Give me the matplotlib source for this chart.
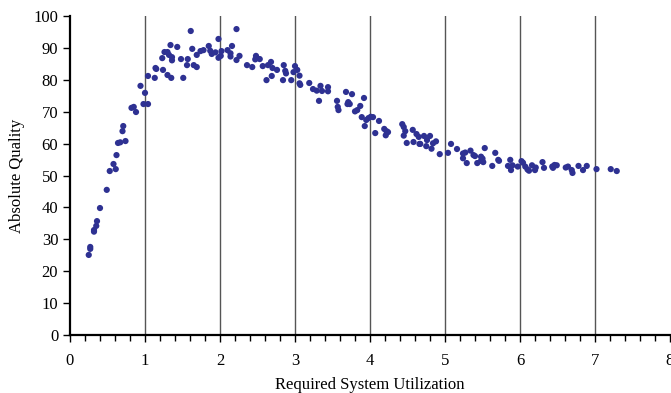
import matplotlib.pyplot as plt
from matplotlib.ticker import MultipleLocator

# required system utilization vs absolute quality
utilization = [
    0.62, 0.58, 0.61, 0.53, 0.49, 0.40, 0.36, 0.35, 0.32, 0.32, 0.27, 0.27, 0.25,
    0.64, 0.67, 0.74, 0.70, 0.71, 0.82, 0.85, 0.88, 0.94, 1.00, 0.98, 1.04,
    1.04, 1.13, 1.14, 1.15, 1.24, 1.23, 1.26, 1.30, 1.34, 1.32, 1.36, 1.36,
    1.30, 1.35, 1.43, 1.48, 1.51, 1.57, 1.56, 1.61, 1.63, 1.65, 1.69, 1.69,
    1.74, 1.78, 1.85, 1.87, 1.89, 1.94, 1.98, 1.98, 2.02, 2.01, 2.10, 2.14,
    2.16, 2.14, 2.22, 2.26, 2.22, 2.36, 2.43, 2.48, 2.47, 2.53, 2.57, 2.62,
    2.64, 2.68, 2.70, 2.69, 2.76,
    2.85, 2.87, 2.88, 2.84, 2.95, 3.00, 2.98, 3.03, 3.06, 3.06, 3.07, 3.19,
    3.24, 3.29, 3.34, 3.36, 3.44, 3.44, 3.32, 3.68, 3.76, 3.56, 3.57, 3.58,
    3.71, 3.73, 3.70, 3.87, 3.83, 3.80, 3.92, 3.89, 3.95, 3.98, 4.01, 4.04,
    3.93, 4.07, 4.12, 4.19, 4.22, 4.21, 4.24, 4.43, 4.45, 4.47, 4.45, 4.49,
    4.57, 4.58, 4.62, 4.65, 4.66,
    4.72, 4.80, 4.76, 4.88, 4.84, 4.75, 4.82, 4.67, 4.93, 5.04, 5.08, 5.16,
    5.24, 5.27, 5.34, 5.24, 5.29, 5.38, 5.40, 5.48, 5.50, 5.43, 5.51, 5.53,
    5.48, 5.67, 5.71, 5.72, 5.63, 5.87, 5.84, 5.88, 5.90, 5.97, 6.02, 6.04,
    6.07, 6.10, 6.12, 6.16, 6.21, 6.20, 6.30, 6.32, 6.43, 6.46, 6.49, 6.44,
    6.61, 6.64, 6.69, 6.70, 6.78, 6.84, 6.89, 7.02, 7.21, 7.29,
]
quality = [
    56.4, 53.6, 52.0, 51.4, 45.5, 39.8, 35.7, 34.2, 32.9, 32.4, 27.6, 27.0, 25.1,
    60.2, 60.4, 60.8, 63.9, 65.5, 71.2, 71.5, 69.9, 78.1, 75.9, 72.4, 72.4,
    81.2, 80.6, 83.7, 83.4, 83.1, 86.8, 88.7, 88.7, 90.9, 87.8, 87.1, 86.1,
    81.5, 80.6, 90.3, 86.5, 80.6, 86.5, 84.6, 95.3, 89.7, 84.6, 84.0, 87.8,
    89.0, 89.3, 90.6, 89.1, 88.1, 88.6, 92.8, 86.9, 89.0, 87.5, 89.3, 88.3,
    90.6, 87.3, 95.9, 87.5, 86.2, 84.6, 84.0, 87.5, 86.4, 86.5, 84.3, 79.9,
    84.6, 85.6, 83.7, 81.2, 83.1,
    84.6, 82.8, 82.0, 79.9, 79.9, 84.3, 82.4, 83.1, 81.3, 78.9, 78.4, 79.0,
    77.1, 76.6, 78.1, 76.5, 77.7, 76.4, 73.4, 76.2, 75.5, 73.4, 71.5, 70.5,
    73.0, 72.4, 72.4, 71.8, 70.5, 70.1, 74.3, 68.3, 67.4, 68.0, 68.4, 68.3,
    65.5, 63.3, 67.1, 64.6, 63.9, 62.6, 63.6, 66.1, 65.2, 63.9, 62.5, 60.2,
    64.3, 60.5, 63.0, 62.1, 59.9,
    62.4, 62.4, 61.1, 60.7, 60.1, 59.2, 58.4, 59.9, 56.7, 57.1, 59.9, 58.3,
    56.9, 57.2, 57.8, 55.4, 53.9, 56.4, 56.1, 55.9, 55.3, 53.9, 54.2, 58.6,
    54.6, 57.1, 54.9, 54.6, 53.0, 54.9, 53.0, 51.7, 53.2, 52.8, 54.5, 54.0,
    52.8, 51.9, 51.5, 53.2, 52.5, 51.7, 54.2, 52.4, 52.8, 53.3, 53.2, 52.4,
    52.5, 52.8, 51.7, 50.8, 53.0, 51.7, 53.0, 52.0, 52.0, 51.4,
]

plt.rcParams['font.family'] = ['Liberation Serif', 'DejaVu Serif']

fig = plt.figure(figsize=(6.71, 3.93), dpi=100)
ax = fig.add_axes([70 / 671, 58 / 393, 600 / 671, 319 / 393])

for xv in range(1, 8):
    ax.axvline(xv, color='#555555', linewidth=1.0, zorder=1)

ax.scatter(utilization, quality, s=20, color='#2e3192', edgecolors='none', zorder=3)

ax.set_xlim(0, 8)
ax.set_ylim(0, 100)
ax.xaxis.set_major_locator(MultipleLocator(1))
ax.xaxis.set_minor_locator(MultipleLocator(0.2))
ax.yaxis.set_major_locator(MultipleLocator(10))

ax.spines['top'].set_visible(False)
ax.spines['right'].set_visible(False)
ax.spines['left'].set_linewidth(1.6)
ax.spines['bottom'].set_linewidth(1.6)
ax.tick_params(axis='both', which='major', direction='out', length=5, width=1, labelsize=12)
ax.tick_params(axis='x', which='minor', direction='out', length=4, width=1)
ax.tick_params(axis='x', pad=8)

ax.set_xlabel('Required System Utilization', fontsize=12, labelpad=6)
ax.set_ylabel('Absolute Quality', fontsize=12, labelpad=6)

fig.savefig('out.png', dpi=100)
